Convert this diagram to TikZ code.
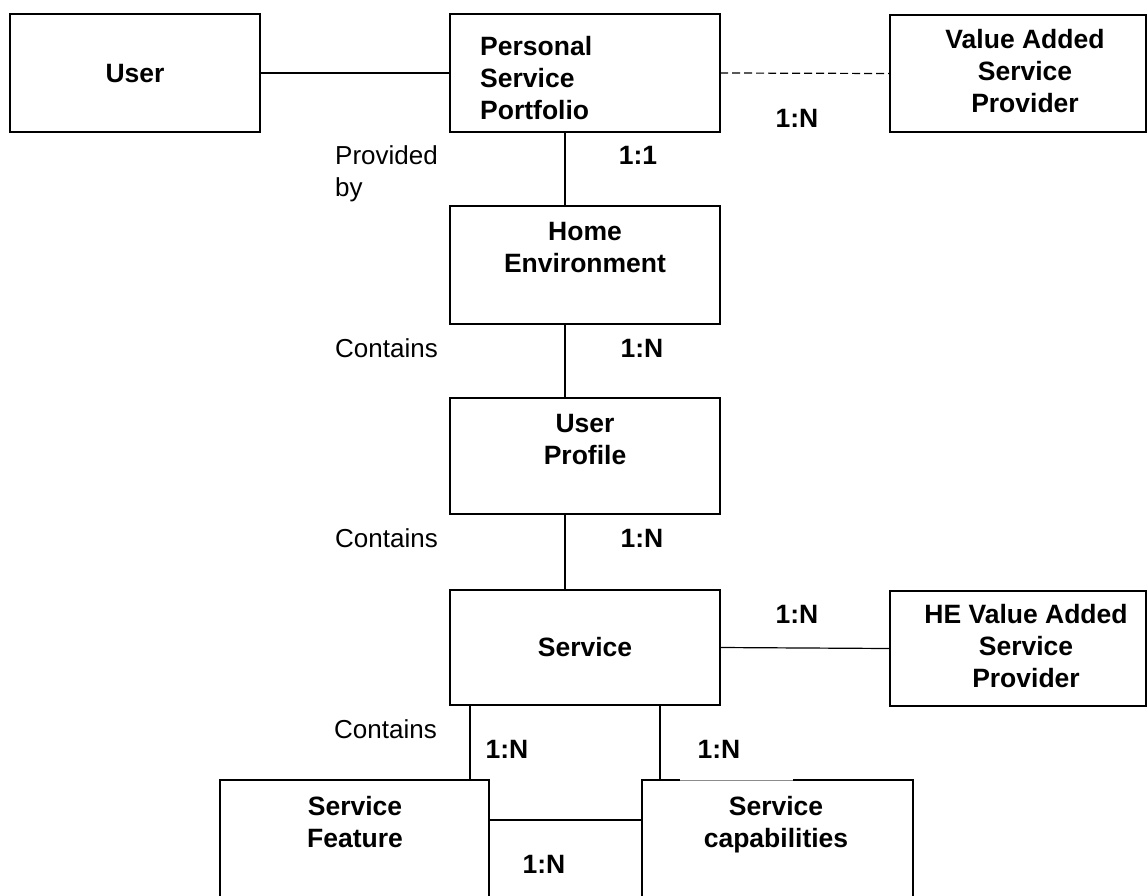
\documentclass[tikz,border=0pt]{standalone}
\usepackage{fontspec}
\setmainfont{Liberation Sans}
\begin{document}
\begin{tikzpicture}[x=1pt,y=-1pt,
  box/.style={draw, line width=1.6pt, inner sep=0pt, outer sep=0pt},
  link/.style={line width=1.2pt},
  lbl/.style={inner sep=0pt, font=\fontsize{26}{32}\selectfont},
  blbl/.style={inner sep=0pt, font=\fontsize{26.5}{32}\selectfont\bfseries},
]
\useasboundingbox (0,0) rectangle (1148,895);
\clip (0,0) rectangle (1148,895);
\fill[white] (0,0) rectangle (1148,895);

% boxes
\node[box, minimum width=250pt, minimum height=118pt] (user) at (135,73) {};
\node[box, minimum width=270pt, minimum height=118pt] (psp) at (585,73) {};
\node[box, minimum width=256pt, minimum height=117pt] (vasp) at (1018,73.5) {};
\node[box, minimum width=270pt, minimum height=118pt] (he) at (585,265) {};
\node[box, minimum width=270pt, minimum height=116pt] (up) at (585,456) {};
\node[box, minimum width=270pt, minimum height=115pt] (svc) at (585,647.5) {};
\node[box, minimum width=256pt, minimum height=115pt] (hevasp) at (1018,648.5) {};
\node[box, minimum width=269pt, minimum height=130pt] (sf) at (354.5,845) {};
\node[box, minimum width=271pt, minimum height=130pt] (sc) at (777.5,845) {};

% faint segment of the top border of Service capabilities
\draw[white, line width=1.8pt] (680,780) -- (793,780);
\draw[black!45, line width=0.6pt] (680,780) -- (793,780);

% box texts
\node[blbl, anchor=base] (tuser) at (135,82) {User};
\node[blbl, anchor=west, align=left] (tpsp) at (480,78.5) {Personal\\Service\\Portfolio};
\node[blbl, align=center] (tvasp) at (1025,71.5) {Value Added\\Service\\Provider};
\node[blbl, align=center] (the) at (585,247.5) {Home\\Environment};
\node[blbl, align=center] (tup) at (585,440) {User\\Profile};
\node[blbl, anchor=base] (tsvc) at (585,656) {Service};
\node[blbl, align=center] (thevasp) at (1026,646.5) {HE Value Added\\Service\\Provider};
\node[blbl, align=center] (tsf) at (355,822.5) {Service\\Feature};
\node[blbl, align=center] (tsc) at (776,825) {Service\\capabilities};

% connectors
\draw[link] (user.east) -- (psp.west);
\draw[link, dash pattern=on 8pt off 4pt] (psp.east) -- (vasp.west);
\draw[link] ([xshift=-20pt]psp.south) -- ([xshift=-20pt]he.north);
\draw[link] ([xshift=-20pt]he.south) -- ([xshift=-20pt]up.north);
\draw[link] ([xshift=-20pt]up.south) -- ([xshift=-20pt]svc.north);
\draw[link] (svc.east) -- (hevasp.west);
\coordinate (sfc) at ([xshift=250pt]sf.north west);
\coordinate (scc) at ([xshift=18pt]sc.north west);
\draw[link] (sfc) -- (sfc |- svc.south);
\draw[link] (scc) -- (scc |- svc.south);
\draw[link] ([yshift=-40pt]sf.north east) -- ([yshift=-40pt]sc.north west);

% relation labels
\node[lbl, anchor=west, align=left] (lprov) at (335,174) {Provided\\by};
\node[blbl, anchor=base] (l11) at (638,164) {1:1};
\node[blbl, anchor=base] (l1n0) at (797,127) {1:N};
\node[lbl, anchor=base west] (lc1) at (335,357) {Contains};
\node[blbl, anchor=base] (l1n1) at (642,357) {1:N};
\node[lbl, anchor=base west] (lc2) at (335,547) {Contains};
\node[blbl, anchor=base] (l1n2) at (642,547) {1:N};
\node[blbl, anchor=base] (l1n3) at (797,623) {1:N};
\node[lbl, anchor=base west] (lc3) at (334,738) {Contains};
\node[blbl, anchor=base] (l1n4) at (507,758) {1:N};
\node[blbl, anchor=base] (l1n5) at (719,758) {1:N};
\node[blbl, anchor=base] (l1n6) at (544,873) {1:N};
\end{tikzpicture}
\end{document}
